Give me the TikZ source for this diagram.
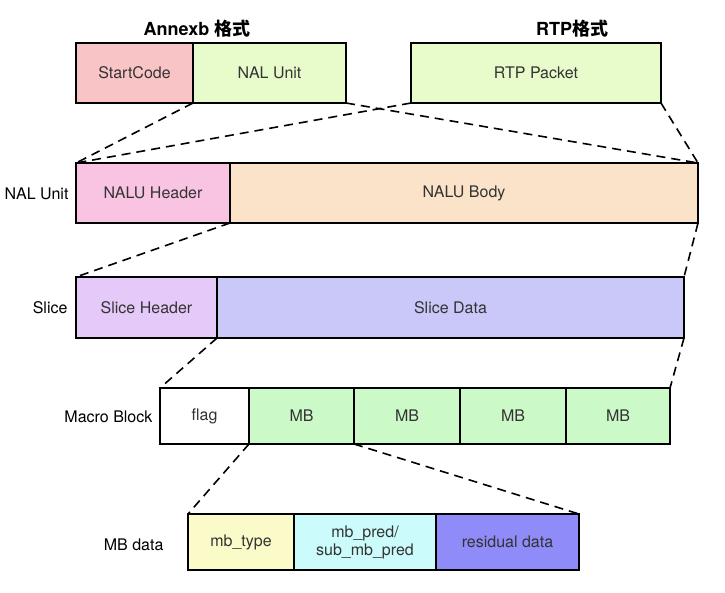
\documentclass[tikz,border=0pt]{standalone}
\usepackage{fontspec}
\setmainfont{TeX Gyre Heros}
\newfontfamily\cjk{Noto Sans CJK SC}
\usetikzlibrary{positioning}

\definecolor{startpink}{HTML}{F9C4C6}
\definecolor{nalgreen}{HTML}{E8FBCB}
\definecolor{hdrpink}{HTML}{F8C4E2}
\definecolor{bodypeach}{HTML}{FBE3C9}
\definecolor{slhdr}{HTML}{E5C9F9}
\definecolor{sldata}{HTML}{C9C8F9}
\definecolor{mbgreen}{HTML}{CCF9C8}
\definecolor{mbyellow}{HTML}{FBFBC9}
\definecolor{mbcyan}{HTML}{CBFBFB}
\definecolor{mbviolet}{HTML}{8F8BF8}
\definecolor{boxtext}{HTML}{333333}

\tikzset{
  box/.style={draw=black, line width=1.5pt, anchor=north west, inner sep=0pt,
    outer sep=0pt, font=\fontsize{16}{18}\selectfont, text=boxtext, align=center},
  rowlabel/.style={anchor=east, font=\fontsize{16}{18}\selectfont, text=black},
  title/.style={font=\fontsize{18}{20}\selectfont\bfseries},
  zoomline/.style={line width=1.6pt, dash pattern=on 9pt off 6pt}
}

\begin{document}
\begin{tikzpicture}[x=1pt,y=-1pt]
  \useasboundingbox (0,0) rectangle (725,592);

  % titles
  \node [title] (tannexb) at (197,29) {Annexb {\cjk\bfseries 格式}};
  \node [title] (trtp) at (572,29) {RTP{\cjk\bfseries 格式}};

  % annexb / rtp row
  \node [box, fill=startpink, minimum width=117pt, minimum height=60pt] (sc) at (76,43) {StartCode};
  \node [box, fill=nalgreen, minimum width=153pt, minimum height=60pt] (nalu) at (193,43) {NAL Unit};
  \node [box, fill=nalgreen, minimum width=250pt, minimum height=60pt] (rtp) at (411,43) {RTP Packet};

  % nal unit row
  \node [box, fill=hdrpink, minimum width=154pt, minimum height=60pt] (nhdr) at (76,163) {NALU Header};
  \node [box, fill=bodypeach, minimum width=468pt, minimum height=60pt] (nbody) at (230,163) {NALU Body};
  \node [rowlabel] (lnal) at (72,194) {NAL Unit};

  % slice row
  \node [box, fill=slhdr, minimum width=141pt, minimum height=61pt] (shdr) at (76,277) {Slice Header};
  \node [box, fill=sldata, minimum width=467pt, minimum height=61pt] (sdata) at (217,277) {Slice Data};
  \node [rowlabel] (lslice) at (71,308) {Slice};

  % macro block row
  \node [box, fill=white, minimum width=89pt, minimum height=56pt] (flag) at (160,388) {flag};
  \node [box, fill=mbgreen, minimum width=105pt, minimum height=56pt] (mba) at (249,388) {MB};
  \node [box, fill=mbgreen, minimum width=106pt, minimum height=56pt] (mbb) at (354,388) {MB};
  \node [box, fill=mbgreen, minimum width=106pt, minimum height=56pt] (mbc) at (460,388) {MB};
  \node [box, fill=mbgreen, minimum width=104pt, minimum height=56pt] (mbd) at (566,388) {MB};
  \node [rowlabel] (lmb) at (156,417) {Macro Block};

  % mb data row
  \node [box, fill=mbyellow, minimum width=106pt, minimum height=56pt] (mbtype) at (188,514) {mb\_type};
  \node [box, fill=mbcyan, minimum width=142pt, minimum height=56pt] (mbpred) at (294,514) {mb\_pred/\\sub\_mb\_pred};
  \node [box, fill=mbviolet, minimum width=143pt, minimum height=56pt] (resid) at (436,514) {residual data};
  \node [rowlabel] (lmbdata) at (167,545) {MB data};

  % zoom lines
  \draw [zoomline] (nalu.south west) -- (nhdr.north west);
  \draw [zoomline] (nalu.south east) -- (nbody.north east);
  \draw [zoomline] (rtp.south west) -- (nhdr.north west);
  \draw [zoomline] (rtp.south east) -- (nbody.north east);

  \draw [zoomline] (nhdr.south east) -- (shdr.north west);
  \draw [zoomline] (nbody.south east) -- (sdata.north east);

  \draw [zoomline] (shdr.south east) -- (flag.north west);
  \draw [zoomline] (sdata.south east) -- (mbd.north east);

  \draw [zoomline] (mba.south west) -- (mbtype.north west);
  \draw [zoomline] (mba.south east) -- (resid.north east);

\end{tikzpicture}
\end{document}
